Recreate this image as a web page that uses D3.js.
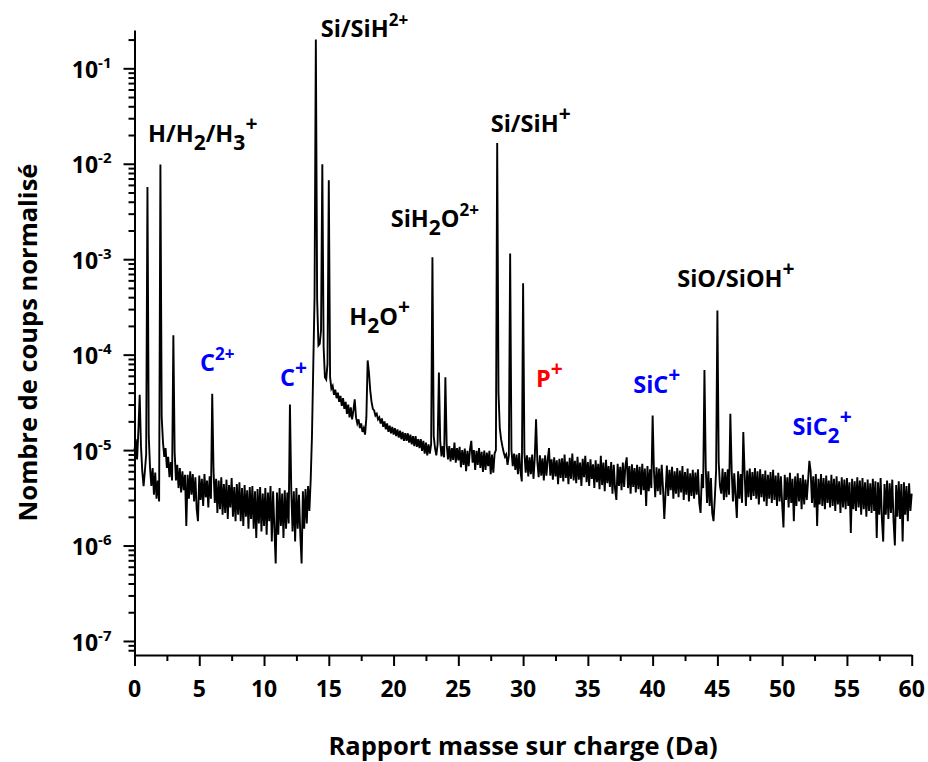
<!DOCTYPE html>
<html><head><meta charset="utf-8">
<script src="https://cdn.jsdelivr.net/npm/d3@7"></script>
<style>
body{margin:0;background:#fff}
text{font-family:"Open Sans",Lato,sans-serif;font-weight:bold}
</style>
</head><body>
<svg id="chart" width="928" height="762"></svg>
<script>
// ---------- data ----------
const massStart = 0, massStep = 0.1;
// background counts, in units of 1e-6, one row per Da (m = k.0 ... k.9), last value m = 60.0
const background = [
 10,13,8,16,20,11,6,4.2,6,9,
 14,14,6.5,4.2,6.5,3.4,5.8,3.1,4.8,2.9,
 10,22,12,8.5,10.5,6.5,8.5,5.2,7.5,4.8,
 9,9.5,4.8,7,4,6.5,3.6,6,3.8,5.5,
 1.6,5.5,3.1,6,3.4,5.6,2.9,5.2,2.4,1.8,
 5.4,3,5,2.6,5.6,3.2,4.8,2.5,5.3,3.1,
 4,6.2,2.8,5,2.2,4.8,2.4,5.2,2.1,4.4,
 2.2,4.9,1.9,4.3,2.5,5.1,2,4.1,1.8,4.4,
 2.1,4.6,1.8,4,1.6,4.3,2,3.8,1.5,4.1,
 1.9,4.2,1.5,3.7,1.2,3.9,1.7,4.1,1.4,3.5,
 1.6,4,1.3,3.6,1.8,4.2,1.1,3.7,1.5,0.65,
 3.6,1.3,4,1.6,3.5,1.2,3.8,1.5,3.6,1.7,
 3,3.9,1.4,3.7,1.1,4,1.5,3.4,1.3,0.65,
 3.7,1.5,3.9,1.7,4.2,2.3,4.8,14,75,400,
 1000,380,125,130,180,300,120,58,55,80,
 200,58,44,47,38,43,35,40,32,37,
 29,35,27,32,24,30,22,28,21,26,
 34,22,19,21,17,19,15.5,17,14.5,22,
 60,65,42,32,27,26,23,24,21,22,
 19,21.5,17.5,20,16.5,19,15.5,18,15,17.5,
 14.5,17,14,16.5,13.5,16,13,15.5,12.5,15,
 12.5,15,12,14.5,11.5,14,11,14,10.8,13,
 10.5,13,9.8,12.5,9.2,12,8.8,11.5,9.2,11.5,
 15,14,10.5,8.8,11.5,15,12.5,8.6,11,8.4,
 14,11.5,8,11,7.6,10.5,7.9,12,7.4,10.5,
 7.8,10.8,6.6,10,7,10.4,6,9.8,6.8,10.2,
 12.5,7.4,10,6.2,9.8,7,10.5,6.5,9.6,5.9,
 9.9,6.2,9.4,6.8,9.8,5.6,9,5.8,9.2,10,
 500,40,17,13,11,9.5,8.5,9,7,8.8,
 9,10,6.8,9.2,6.2,9,5.6,9.3,5.9,4.7,
 9,9.5,5.8,8.8,5.3,8.4,5.6,9,5,8.3,
 7,7.6,5.2,8.8,5.4,8.2,4.8,8.8,5.4,7.9,
 10.5,5.4,8,4.9,8.4,5.3,7.8,4.4,8.1,5.1,
 8.2,4.7,9,5.1,7.6,4.4,8.3,5,9.2,4.8,
 7.7,4.5,8.5,4.9,7.4,4.2,8.1,5.2,8.7,4.6,
 7.5,4.2,8,5,7.1,4,7.8,4.6,7.2,3.9,
 8.7,4.3,7.4,3.7,7.9,4.5,6.8,4.1,7.5,3.5,
 7,3.9,3,7.2,4.2,6.7,3.8,7.4,4.1,6.9,
 8.4,4,6.8,3.5,7.1,4.1,6.5,3.6,7,3.9,
 6.7,3.4,7.2,3.8,6.4,2.6,6.8,3.7,6.3,4,
 5,6.1,3.2,6.6,3.7,6.4,3.4,7,4,1.9,
 3.6,6.9,3.3,6.2,3.8,6.7,3.1,6,3.5,6.5,
 3.2,6.1,3.6,6.8,3,5.9,3.4,6.4,2.9,5.7,
 3.3,6.2,3.1,5.8,3.4,6.3,2.8,2.2,5.6,4,
 6,6.6,2.8,6,2.6,5.1,2.2,1.8,3.1,6.1,
 8,7.5,4.2,3.5,6.4,3,5.9,3.2,6.3,3.4,
 5,6.2,2.9,5.7,3.3,1.95,6,3.1,5.6,2.8,
 5,5.8,2.6,6.1,3.2,6.4,3,5.9,3.3,6.5,
 3.1,6,2.7,6.3,3.2,5.6,2.9,6.1,2.6,5.5,
 3.1,5.9,2.8,6.2,3,5.4,2.6,5.8,2.9,5.3,
 2.7,1.55,5.5,3,5.2,2.5,5.8,2.8,5,1.8,
 5.3,2.6,5.7,2.9,5.1,2.4,5.5,2.7,4.9,3,
 4.8,5,6,2.8,5.3,2.5,5.6,1.6,5,2.7,
 5.6,2.6,5.1,2.4,5.4,2.8,4.8,2.5,5.5,2.6,
 5,2.3,5.3,2.7,4.7,2.2,5.2,2.5,4.9,2.4,
 5.1,2.6,4.6,1.35,5,2.4,4.7,2.3,5.2,2.5,
 4.8,2.1,5.1,2.4,4.6,2,4.9,2.3,4.5,2.2,
 5,2.3,4.7,1.2,4.6,2.1,5.1,1.9,1.1,4.4,
 2.1,4.8,1.9,4.5,2.2,4.9,1.8,1.0,4.3,2,
 4.7,1.9,4.4,1.1,4.6,2.1,4.2,1.8,4.5,2.3,
 3.5
];
// narrow peaks (mass in Da, height in units of 1e-6)
const peakMass   = [0.4, 1.0, 2.0, 3.0, 6.0, 12.0, 14.0, 14.5, 15.0, 18.0, 23.0, 23.5, 24.0, 28.0, 29.0, 30.0, 31.0, 40.0, 44.0, 45.0, 46.0, 47.0, 52.1];
const peakHeight = [38, 5700, 9800, 160, 39, 30, 200000, 9900, 6700, 87, 1050, 65, 58, 16500, 1150, 560, 21, 23, 69, 290, 24, 15.5, 7.7];
const valueUnit = 1e-6;

const xTickValues = [0,5,10,15,20,25,30,35,40,45,50,55,60];
const yTickExponents = [-7,-6,-5,-4,-3,-2,-1];

// peak annotations: text pieces ([text, kind]), anchor mass, anchor level, colour group
const labelParts = [
  [["H/H",""],["2","sub"],["/H",""],["3","sub"],["+","sup"]],
  [["Si/SiH",""],["2+","sup"]],
  [["Si/SiH",""],["+","sup"]],
  [["SiH",""],["2","sub"],["O",""],["2+","sup"]],
  [["H",""],["2","sub"],["O",""],["+","sup"]],
  [["C",""],["2+","sup"]],
  [["C",""],["+","sup"]],
  [["P",""],["+","sup"]],
  [["SiC",""],["+","sup"]],
  [["SiO/SiOH",""],["+","sup"]],
  [["SiC",""],["2","sub"],["+","sup"]]
];
const labelMass  = [1.04, 14.38, 27.5, 19.78, 16.58, 5.06, 11.23, 31.0, 38.5, 41.9, 50.8];
const labelLevel = [1.69e-2, 0.214, 2.17e-2, 2.19e-3, 2.04e-4, 6.8e-5, 4.73e-5, 4.6e-5, 3.94e-5, 5.15e-4, 1.44e-5];
const labelGroup = ["matrix","matrix","matrix","matrix","matrix","carbon","carbon","dopant","carbon","matrix","carbon"];
const groupColor = {matrix:"#000000", carbon:"#0000ff", dopant:"#ff0000"};

// ---------- build series ----------
const peakAt = new Map(peakMass.map((m,i)=>[Math.round(m/massStep), peakHeight[i]]));
const spectrum = background.map((v,i)=>[massStart + i*massStep, (peakAt.has(i)?peakAt.get(i):v)*valueUnit]);

// ---------- layout ----------
const W = 928, H = 762;
const margin = {left:134.5, right:W-911.7, top:30, bottom:H-655};
const svg = d3.select("#chart");
const x = d3.scaleLinear().domain([0,60]).range([margin.left, W-margin.right]);
const y = d3.scaleLog().domain([7.13e-8, 0.252]).range([H-margin.bottom, margin.top]);

// spectrum line
svg.append("path")
  .datum(spectrum)
  .attr("fill","none").attr("stroke","#000").attr("stroke-width",1.9)
  .attr("d", d3.line().x(d=>x(d[0])).y(d=>y(d[1])));

// ---------- axes ----------
const xMinor = d3.range(2.5,60,5);
const gx = svg.append("g").attr("transform",`translate(0,${H-margin.bottom})`);
gx.call(d3.axisBottom(x).tickValues(xTickValues).tickSize(11).tickSizeOuter(0).tickFormat(""));
gx.append("g").call(d3.axisBottom(x).tickValues(xMinor).tickSize(6).tickSizeOuter(0).tickFormat(""))
  .select(".domain").remove();
gx.selectAll("path,line").attr("stroke","#000").attr("stroke-width",2);
gx.selectAll(".xl").data(xTickValues).enter().append("text")
  .attr("x",d=>x(d)).attr("y",41.7).attr("text-anchor","middle")
  .attr("font-size",23).attr("fill","#000").text(d=>d);

const yMajor = yTickExponents.map(e=>Math.pow(10,e));
const yMinor = [];
for (let e=-8;e<=-1;e++) for (let k=2;k<=9;k++){ const v=k*Math.pow(10,e); if(v>=y.domain()[0]&&v<=y.domain()[1]) yMinor.push(v); }
const gy = svg.append("g").attr("transform",`translate(${margin.left},0)`);
gy.call(d3.axisLeft(y).tickValues(yMajor).tickSize(11).tickSizeOuter(0).tickFormat(""));
gy.append("g").call(d3.axisLeft(y).tickValues(yMinor).tickSize(6).tickSizeOuter(0).tickFormat(""))
  .select(".domain").remove();
gy.selectAll("path,line").attr("stroke","#000").attr("stroke-width",2);
const yl = gy.selectAll(".yl").data(yTickExponents).enter().append("text")
  .attr("x",-23).attr("y",e=>y(Math.pow(10,e))+9.7).attr("text-anchor","end").attr("fill","#000");
yl.append("tspan").attr("font-size",23).text("10");
yl.append("tspan").attr("font-size",15).attr("dy",-10).text(e=>"-"+Math.abs(e));

// axis titles
svg.append("text").attr("x",(margin.left+W-margin.right)/2).attr("y",755)
  .attr("text-anchor","middle").attr("font-size",25.5).attr("fill","#000")
  .text("Rapport masse sur charge (Da)");
svg.append("text").attr("transform",`translate(37,${(margin.top+H-margin.bottom)/2}) rotate(-90)`)
  .attr("text-anchor","middle").attr("font-size",25.5).attr("fill","#000")
  .text("Nombre de coups normalisé");

// ---------- annotations ----------
labelParts.forEach((parts,i)=>{
  const t = svg.append("text").attr("x",x(labelMass[i])).attr("y",y(labelLevel[i]))
    .attr("font-size",23.5).attr("fill",groupColor[labelGroup[i]]);
  let shift = 0;
  parts.forEach(([s,kind])=>{
    const target = kind==="sub"?8:kind==="sup"?-11:0;
    const ts = t.append("tspan").attr("dy",target-shift).text(s);
    if(kind==="sub") ts.attr("font-size",21);
    if(kind==="sup") ts.attr("font-size",s==="+"?21:17);
    shift = target;
  });
});
</script>
</body></html>
